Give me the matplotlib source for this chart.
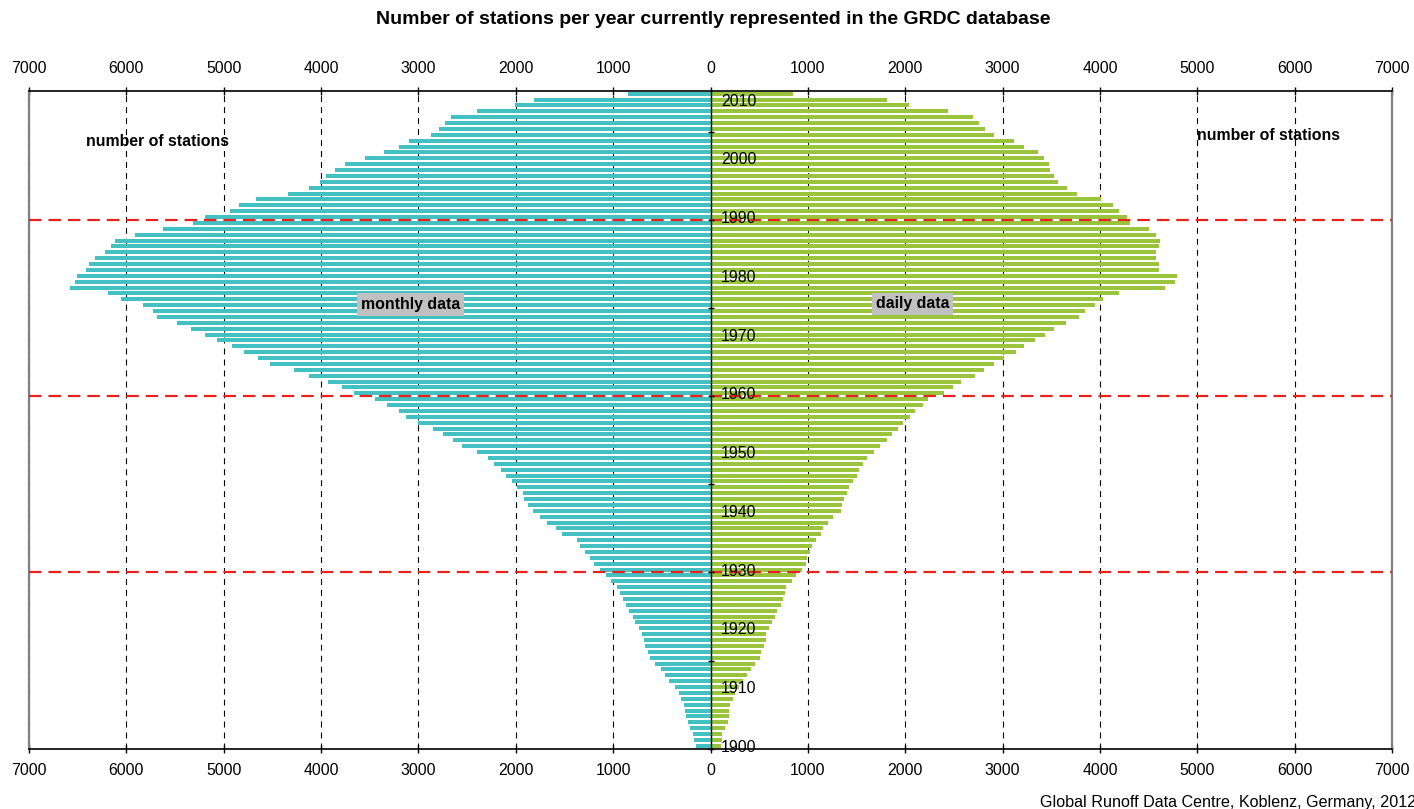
import matplotlib.pyplot as plt
import numpy as np
from matplotlib.ticker import FixedLocator, FuncFormatter, NullFormatter

plt.rcParams['font.family'] = ['Liberation Sans', 'DejaVu Sans']
plt.rcParams['lines.scale_dashes'] = False

years = np.arange(1900, 2012)

# stations with monthly data, 1900 .. 2011
monthly = [
    146, 165, 179, 207, 231, 250, 259, 268, 301, 320,
    363, 424, 466, 513, 565, 617, 641, 669, 678, 702,
    730, 772, 801, 834, 867, 895, 928, 956, 1017, 1069,
    1140, 1201, 1234, 1286, 1338, 1375, 1521, 1592, 1677, 1748,
    1828, 1870, 1912, 1931, 1983, 2035, 2096, 2148, 2228, 2289,
    2402, 2548, 2647, 2751, 2854, 3000, 3123, 3203, 3325, 3448,
    3665, 3787, 3924, 4126, 4282, 4527, 4649, 4795, 4917, 5068,
    5195, 5337, 5483, 5685, 5728, 5831, 6053, 6189, 6580, 6528,
    6505, 6415, 6382, 6321, 6218, 6156, 6119, 5911, 5624, 5318,
    5195, 4936, 4847, 4668, 4343, 4126, 4013, 3952, 3858, 3759,
    3552, 3358, 3203, 3099, 2873, 2793, 2732, 2661, 2402, 2011,
    1809, 843,
]

# stations with daily data, 1900 .. 2011
daily = [
    103, 113, 123, 151, 175, 185, 195, 205, 233, 255,
    290, 330, 370, 411, 452, 505, 523, 547, 565, 575,
    598, 636, 659, 687, 720, 748, 762, 780, 832, 883,
    944, 986, 995, 1019, 1047, 1079, 1131, 1159, 1210, 1262,
    1336, 1355, 1374, 1397, 1425, 1467, 1500, 1528, 1570, 1612,
    1682, 1743, 1808, 1860, 1921, 1981, 2051, 2103, 2178, 2238,
    2402, 2486, 2575, 2720, 2813, 2916, 3014, 3140, 3224, 3336,
    3439, 3533, 3654, 3790, 3850, 3953, 4033, 4196, 4668, 4771,
    4794, 4607, 4607, 4579, 4579, 4607, 4617, 4579, 4505, 4313,
    4280, 4196, 4136, 4009, 3766, 3664, 3570, 3533, 3491, 3481,
    3430, 3364, 3224, 3121, 2907, 2822, 2762, 2692, 2435, 2042,
    1808, 850,
]

year_labels = list(range(1900, 2011, 10))
x_ticks = list(range(-7000, 7001, 1000))
marker_years = [1930, 1960, 1990]

W, H = 1414, 809
fig = plt.figure(figsize=(W / 100, H / 100), dpi=100)
ax = fig.add_axes([29 / W, 1 - 748.7 / H, (1392 - 29) / W, (748.7 - 90.7) / H])

ax.barh(years, -np.array(monthly), height=0.68, color='#43c1c2', zorder=2)
ax.barh(years, daily, height=0.68, color='#99c43c', zorder=2)

ax.set_xlim(-7000, 7000)
ax.set_ylim(years[0] - 0.5, years[-1] + 0.5)
ax.set_xticks(x_ticks)
ax.xaxis.set_major_formatter(FuncFormatter(lambda v, p: '%d' % abs(v)))
ax.tick_params(axis='x', top=True, labeltop=True, direction='inout',
               length=6, width=1, labelsize=11.4, pad=7.3)
ax.set_yticks([])
ax.set_axisbelow(True)
ax.grid(axis='x', color='black', lw=0.8, linestyle=(0, (4.3, 3.6)))

for side in ['left', 'right']:
    ax.spines[side].set_color('#808080')
    ax.spines[side].set_linewidth(1.6)
for side in ['top', 'bottom']:
    ax.spines[side].set_linewidth(1.2)

for yr in marker_years:
    ax.axhline(yr - 0.5, color='#e8231e', lw=1.6, ls=(0, (9, 5)), zorder=3)

# centre axis with the year labels
ax2 = ax.twinx()
ax2.set_ylim(ax.get_ylim())
for side in ['left', 'top', 'bottom']:
    ax2.spines[side].set_visible(False)
ax2.spines['right'].set_position(('axes', 0.5))
ax2.spines['right'].set_linewidth(1.0)
ax2.yaxis.set_major_locator(FixedLocator(np.arange(years[0] - 0.5, years[-1], 15)))
ax2.yaxis.set_major_formatter(NullFormatter())
ax2.yaxis.set_minor_locator(FixedLocator(year_labels))
ax2.yaxis.set_minor_formatter(FuncFormatter(lambda v, p: '%d' % v))
ax2.tick_params(which='major', direction='inout', length=5, width=1)
ax2.tick_params(which='minor', length=0, labelsize=11.4, pad=7.6)

box = dict(boxstyle='square,pad=0.25', fc='#c0c0c0', ec='none')
ax.text(-3080, 1975.1, 'monthly data', fontsize=11.4, fontweight='bold',
        ha='center', va='center', bbox=box, zorder=5)
ax.text(2075, 1975.2, 'daily data', fontsize=11.4, fontweight='bold',
        ha='center', va='center', bbox=box, zorder=5)
ax.text(-6410, 2002.8, 'number of stations', fontsize=11.4, fontweight='bold',
        ha='left', va='center')
ax.text(5000, 2003.9, 'number of stations', fontsize=11.4, fontweight='bold',
        ha='left', va='center')

fig.text(713 / W, 1 - 20 / H, 'Number of stations per year currently represented in the GRDC database',
         fontsize=14, fontweight='bold', ha='center', va='center')
fig.text(1040 / W, 1 - 802 / H, 'Global Runoff Data Centre, Koblenz, Germany, 2012',
         fontsize=11.6, ha='left', va='center')

fig.savefig('out.png', dpi=100)
